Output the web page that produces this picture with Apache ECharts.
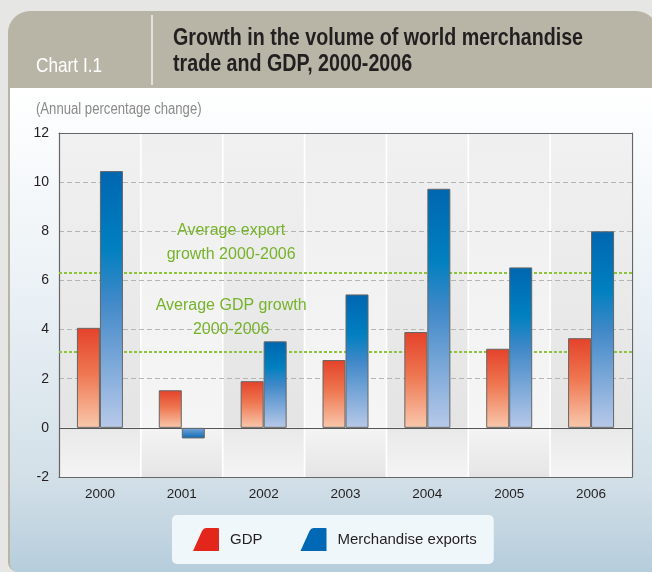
<!DOCTYPE html>
<html>
<head>
<meta charset="utf-8">
<script src="https://cdn.jsdelivr.net/npm/echarts@6/dist/echarts.min.js"></script>
<style>
html,body{margin:0;padding:0;background:#e6e6e4;}
#c{width:652px;height:572px;}
</style>
</head>
<body>
<div id="c"></div>
<script>
// ---- data ----
const categories = ['2000', '2001', '2002', '2003', '2004', '2005', '2006'];
const gdpValues = [4.07, 1.53, 1.9, 2.76, 3.9, 3.22, 3.65];
const exportValues = [10.45, -0.43, 3.52, 5.43, 9.73, 6.53, 8.0];
const avgExportGrowth = 6.3;
const avgGdpGrowth = 3.1;
const yMin = -2, yMax = 12, yInterval = 2;
const seriesNames = ['GDP', 'Merchandise exports'];
const chartNo = 'Chart I.1';
const titleLines = ['Growth in the volume of world merchandise', 'trade and GDP, 2000-2006'];
const unitText = '(Annual percentage change)';
const avgExportLabel = 'Average export\ngrowth 2000-2006';
const avgGdpLabel = 'Average GDP growth\n2000-2006';

const FONT = '"Liberation Sans", Arial, Helvetica, sans-serif';
const NARROW_SCALE = 0.82;

function vgrad(stops) {
  return new echarts.graphic.LinearGradient(0, 0, 0, 1, stops.map((c) => ({offset: c[0], color: c[1]})));
}
const gdpGrad = vgrad([[0, '#e4422a'], [0.45, '#ee7650'], [1, '#f9c8ac']]);
const expGrad = vgrad([[0, '#0066b0'], [0.3, '#0080c0'], [0.5, '#3f88c8'], [1, '#b8c9e9']]);
const expGradNeg = vgrad([[0, '#7aa6da'], [1, '#0a68b2']]);

const bandUpper = [vgrad([[0, '#f1f1f1'], [1, '#e4e4e4']]), vgrad([[0, '#efefef'], [1, '#f5f5f5']])];
const bandLower = [vgrad([[0, '#e9e9e9'], [1, '#f4f4f4']]), vgrad([[0, '#f4f4f4'], [1, '#e5e5e5']])];

function narrowText(x, y, text, font, fill) {
  return {type: 'text', z: -7, x: x, y: y, scaleX: NARROW_SCALE, scaleY: 1,
    style: {x: 0, y: 0, text: text, fill: fill, font: font, verticalAlign: 'middle'}};
}

const chart = echarts.init(document.getElementById('c'), null, {renderer: 'canvas'});

const option = {
  backgroundColor: '#e6e6e4',
  animation: false,
  graphic: [
    {type: 'rect', z: -10, shape: {x: 8, y: 11, width: 650, height: 561, r: [22, 22, 0, 10]}, style: {fill: '#b8b5a7'}},
    {type: 'rect', z: -9, shape: {x: 10, y: 88, width: 645, height: 484, r: [0, 0, 0, 8]},
      style: {fill: new echarts.graphic.LinearGradient(0, 0, 0, 1, [
        {offset: 0, color: '#ffffff'}, {offset: 0.45, color: '#e9f0f5'},
        {offset: 0.8, color: '#d3e0e8'}, {offset: 1, color: '#b6cddc'}])}},
    {type: 'line', z: -8, shape: {x1: 152, y1: 15, x2: 152, y2: 85}, style: {stroke: '#f2f1ea', lineWidth: 1.5}},
    narrowText(36, 66, chartNo, '21px ' + FONT, '#ffffff'),
    narrowText(173, 38, titleLines[0], 'bold 24px ' + FONT, '#231f20'),
    narrowText(173, 64, titleLines[1], 'bold 24px ' + FONT, '#231f20'),
    narrowText(36, 110, unitText, '16px ' + FONT, '#8a8a8a')
  ],
  grid: {left: 59, top: 133, right: 20, bottom: 95, show: true, backgroundColor: '#ffffff', borderWidth: 0},
  legend: {
    left: 172, top: 515,
    padding: [13, 17, 13, 21], itemGap: 38, itemWidth: 26, itemHeight: 24,
    backgroundColor: '#f0f7fb', borderRadius: 5,
    textStyle: {fontSize: 15, fontFamily: FONT, color: '#231f20', padding: [0, 0, 0, 6]},
    data: [
      {name: seriesNames[0], icon: 'path://M0,23 L9,3 Q10.5,0 13,0 L25,0 Q26,0 26,1 L26,23 Z', itemStyle: {color: '#e2261c', borderWidth: 0}},
      {name: seriesNames[1], icon: 'path://M0,23 L9,3 Q10.5,0 13,0 L25,0 Q26,0 26,1 L26,23 Z', itemStyle: {color: '#0068b4', borderWidth: 0}}
    ]
  },
  xAxis: [
    {type: 'category', data: categories, position: 'bottom', z: 3,
      axisLine: {show: true, onZero: false, lineStyle: {color: '#666', width: 1.2}},
      axisTick: {show: false},
      axisLabel: {color: '#231f20', fontSize: 13.5, fontFamily: FONT, margin: 10},
      splitLine: {show: false}},
    {type: 'category', data: categories, position: 'top', z: 3,
      axisLine: {show: true, onZero: false, lineStyle: {color: '#666', width: 1.2}},
      axisTick: {show: false}, axisLabel: {show: false}, splitLine: {show: false}}
  ],
  yAxis: [
    {type: 'value', min: yMin, max: yMax, interval: yInterval, position: 'left', z: 3,
      axisLine: {show: true, lineStyle: {color: '#666', width: 1.2}},
      axisTick: {show: false},
      axisLabel: {color: '#231f20', fontSize: 14, fontFamily: FONT, margin: 10},
      splitLine: {show: true, lineStyle: {color: '#b5b5b5', type: [5, 3], width: 1}}},
    {type: 'value', min: yMin, max: yMax, interval: yInterval, position: 'right', z: 3,
      axisLine: {show: true, lineStyle: {color: '#666', width: 1.2}},
      axisTick: {show: false}, axisLabel: {show: false}, splitLine: {show: false}}
  ],
  series: [
    {type: 'bar', name: '_bandUp', xAxisIndex: 1, yAxisIndex: 0, z: 1, silent: true,
      barCategoryGap: '2%', barGap: '-100%',
      data: categories.map((c, i) => ({value: yMax, itemStyle: {color: bandUpper[i % 2]}}))},
    {type: 'bar', name: '_bandDown', xAxisIndex: 1, yAxisIndex: 0, z: 1, silent: true,
      barCategoryGap: '2%', barGap: '-100%',
      data: categories.map((c, i) => ({value: yMin, itemStyle: {color: bandLower[i % 2]}}))},
    {type: 'bar', name: seriesNames[0], xAxisIndex: 0, yAxisIndex: 0, z: 10,
      barWidth: 23, barGap: '0%',
      itemStyle: {color: gdpGrad, borderColor: '#666', borderWidth: 1},
      data: gdpValues,
      markLine: {
        silent: true, symbol: 'none', z: 5, label: {show: false},
        data: [
          {yAxis: 0, lineStyle: {color: '#555', type: 'solid', width: 1.2}},
          {yAxis: avgExportGrowth, lineStyle: {color: '#8dc43c', type: [3, 2], width: 2}},
          {yAxis: avgGdpGrowth, lineStyle: {color: '#8dc43c', type: [3, 2], width: 2}}
        ]
      },
      markPoint: {
        silent: true, symbol: 'circle', symbolSize: 0,
        label: {show: true, position: 'inside', color: '#76b22a', fontSize: 16, fontFamily: FONT, lineHeight: 24, align: 'center'},
        data: [
          {coord: [categories[2], avgExportGrowth], value: avgExportLabel, label: {formatter: avgExportLabel, offset: [-21, -30]}},
          {coord: [categories[2], avgGdpGrowth], value: avgGdpLabel, label: {formatter: avgGdpLabel, offset: [-21, -34]}}
        ]
      }
    },
    {type: 'bar', name: seriesNames[1], xAxisIndex: 0, yAxisIndex: 0, z: 10,
      barWidth: 23, barGap: '0%',
      itemStyle: {color: expGrad, borderColor: '#666', borderWidth: 1},
      data: exportValues.map(v => v < 0 ? {value: v, itemStyle: {color: expGradNeg}} : v)
    }
  ]
};
chart.setOption(option);
</script>
</body>
</html>
